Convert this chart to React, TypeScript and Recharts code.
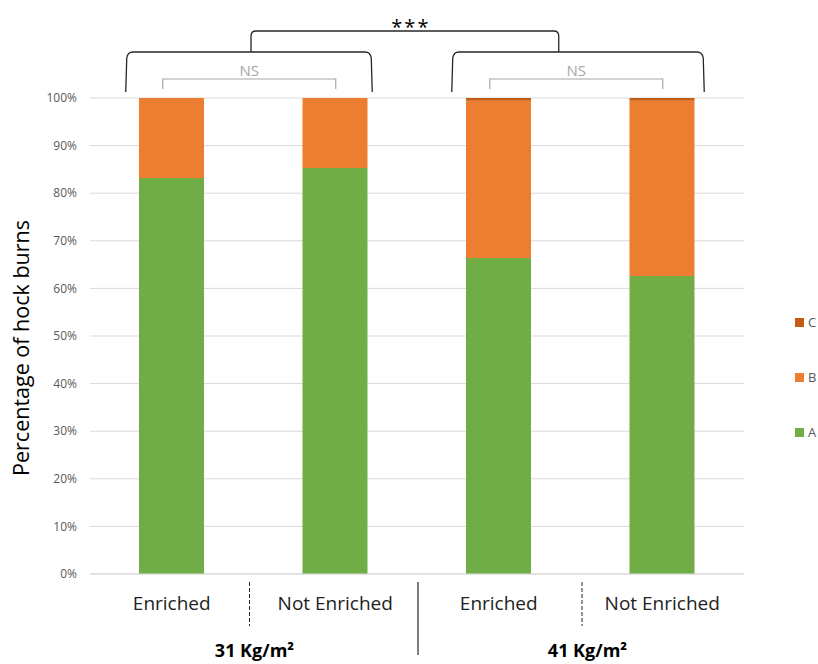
import React from 'react';
import { BarChart, Bar, XAxis, YAxis, CartesianGrid, Legend } from 'recharts';

const categories = ['Enriched', 'Not Enriched', 'Enriched', 'Not Enriched'];
const groups = ['31 Kg/m²', '41 Kg/m²'];
const seriesA = [83.2, 85.3, 66.4, 62.6];
const seriesB = [16.8, 14.7, 33.0, 36.8];
const seriesC = [0, 0, 0.6, 0.6];
const yTicks = [0, 10, 20, 30, 40, 50, 60, 70, 80, 90, 100];
const groupTestLabels = ['NS', 'NS'];
const betweenGroupsLabel = '***';
const yAxisTitle = 'Percentage of hock burns';

const data = categories.map((name, i) => ({
  name,
  A: seriesA[i],
  B: seriesB[i],
  C: seriesC[i],
}));

const W = 818;
const H = 664;
const X_AXIS_H = 30;
const M = { top: 98, right: 74, bottom: 90 - X_AXIS_H, left: 0 };
const Y_AXIS_W = 90;
const PLOT_LEFT = M.left + Y_AXIS_W;
const PLOT_W = W - M.right - PLOT_LEFT;
const BAND = PLOT_W / categories.length;
const center = (i: number) => PLOT_LEFT + BAND * (i + 0.5);
const boundary = (i: number) => PLOT_LEFT + BAND * i;

const FONT = '"Open Sans", "Noto Sans", sans-serif';
const COLORS = { A: '#70AD47', B: '#ED7D31', C: '#C55A11' };

const LegendContent = (props: any) => {
  const items = [...(props.payload || [])].reverse();
  return (
    <div style={{ fontFamily: FONT }}>
      {items.map((it: any) => (
        <div key={it.value} style={{ height: 55, display: 'flex', alignItems: 'flex-start' }}>
          <span style={{ display: 'inline-block', width: 9, height: 9, background: it.color, marginTop: 4 }} />
          <span style={{ fontSize: 13, color: '#595959', marginLeft: 4, lineHeight: '16px' }}>{it.value}</span>
        </div>
      ))}
    </div>
  );
};

const Overlay = () => {
  const dark = '#262626';
  const gray = '#A6A6A6';
  const bigTop = 52;
  const bigBottom = 92;
  const bigBracket = (x1: number, x2: number) =>
    `M ${x1} ${bigBottom} L ${x1 + 1} ${bigTop + 6} Q ${x1 + 2} ${bigTop} ${x1 + 7} ${bigTop} L ${x2 - 7} ${bigTop} Q ${x2 - 2} ${bigTop} ${x2 - 1} ${bigTop + 6} L ${x2} ${bigBottom}`;
  const g1 = [center(0) - 46, center(1) + 37];
  const g2 = [center(2) - 47, center(3) + 42];
  const connL = (g1[0] + g1[1]) / 2 + 2;
  const connR = center(2) + 60;
  const connTop = 31;
  return (
    <svg width={W} height={H} style={{ position: 'absolute', left: 0, top: 0, pointerEvents: 'none' }}>
      <text
        x={20}
        y={348}
        transform="rotate(-90 20 348)"
        textAnchor="middle"
        dominantBaseline="central"
        fontFamily={FONT}
        fontSize={21.5}
        fill="#000"
      >
        {yAxisTitle}
      </text>
      {[g1, g2].map(([a, b], k) => (
        <path key={'b' + k} d={bigBracket(a, b)} fill="none" stroke={dark} strokeWidth={1.3} />
      ))}
      <path
        d={`M ${connL} ${bigTop} L ${connL} ${connTop + 5} Q ${connL} ${connTop} ${connL + 5} ${connTop} L ${connR - 5} ${connTop} Q ${connR} ${connTop} ${connR} ${connTop + 5} L ${connR} ${bigTop}`}
        fill="none"
        stroke={dark}
        strokeWidth={1.3}
      />
      <text x={(connL + connR) / 2 + 6} y={34} textAnchor="middle" fontFamily={FONT} fontSize={20} letterSpacing={2} fill="#000">
        {betweenGroupsLabel}
      </text>
      {groupTestLabels.map((lab, g) => {
        const x1 = center(2 * g) - 9;
        const x2 = center(2 * g + 1) + 0.5;
        return (
          <g key={'ns' + g}>
            <path d={`M ${x1} 89 L ${x1} 79 L ${x2} 79 L ${x2} 89`} fill="none" stroke={gray} strokeWidth={1.2} />
            <text x={(x1 + x2) / 2} y={76} textAnchor="middle" fontFamily={FONT} fontSize={15} fill={gray}>
              {lab}
            </text>
          </g>
        );
      })}
      {[1, 3].map((i) => (
        <line
          key={'d' + i}
          x1={boundary(i) + (i === 1 ? -4 : 1.5)}
          x2={boundary(i) + (i === 1 ? -4 : 1.5)}
          y1={582}
          y2={626}
          stroke={dark}
          strokeWidth={1}
          strokeDasharray="4 2"
        />
      ))}
      <line x1={boundary(2) + 1} x2={boundary(2) + 1} y1={582} y2={655} stroke={dark} strokeWidth={1.2} />
      {groups.map((gname, g) => (
        <text
          key={'g' + g}
          x={boundary(1 + 2 * g) + (g === 0 ? 1 : 7)}
          y={657}
          textAnchor="middle"
          fontFamily={FONT}
          fontSize={18}
          fontWeight="bold"
          fill="#000"
        >
          {gname}
        </text>
      ))}
    </svg>
  );
};

export default function App() {
  return (
    <div style={{ position: 'absolute', left: 0, top: 0, width: W, height: H, background: '#fff' }}>
      <BarChart width={W} height={H} data={data} margin={M} barSize={65}>
        <CartesianGrid vertical={false} stroke="#D9D9D9" />
        <XAxis
          dataKey="name"
          height={X_AXIS_H}
          axisLine={{ stroke: '#D9D9D9' }}
          tickLine={false}
          tickSize={6}
          tickMargin={17}
          tick={{ fontSize: 19, fill: '#222', fontFamily: FONT }}
          interval={0}
        />
        <YAxis
          width={Y_AXIS_W}
          domain={[0, 100]}
          ticks={yTicks}
          tickFormatter={(v: number) => `${v}%`}
          axisLine={false}
          tickLine={false}
          tickSize={6}
          tickMargin={7}
          tick={{ fontSize: 12, fill: '#595959', fontFamily: FONT }}
        />
        <Legend
          layout="vertical"
          align="center"
          verticalAlign="middle"
          content={<LegendContent />}
          wrapperStyle={{ position: 'absolute', left: 795, top: 314, width: 30, height: 170 }}
        />
        <Bar dataKey="A" name="A" stackId="s" fill={COLORS.A} isAnimationActive={false} />
        <Bar dataKey="B" name="B" stackId="s" fill={COLORS.B} isAnimationActive={false} />
        <Bar dataKey="C" name="C" stackId="s" fill={COLORS.C} isAnimationActive={false} />
      </BarChart>
      <Overlay />
    </div>
  );
}
